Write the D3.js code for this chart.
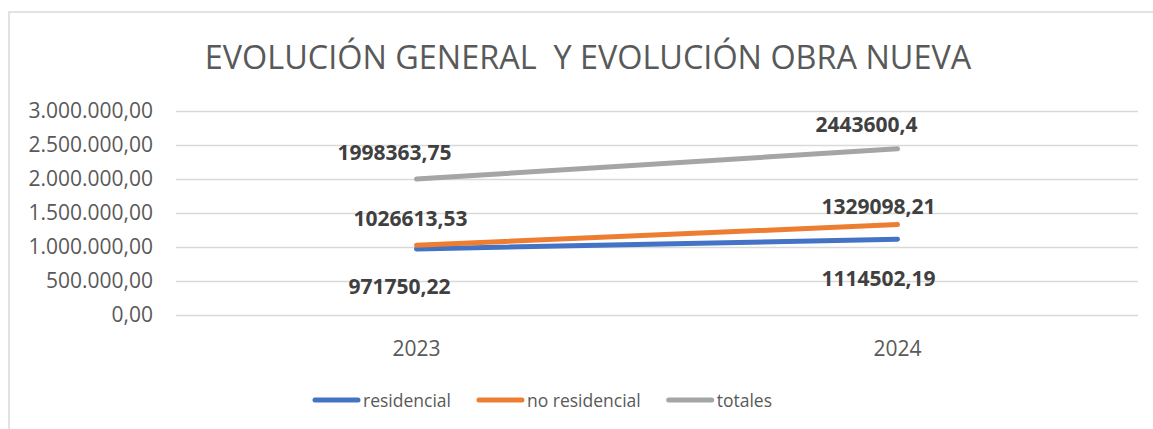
<!DOCTYPE html>
<html>
<head>
<meta charset="utf-8">
<script src="https://cdn.jsdelivr.net/npm/d3@7"></script>
<style>
  body { margin: 0; background: #fff; }
  svg { display: block; font-family: "Open Sans", "Noto Sans", sans-serif; }
</style>
</head>
<body>
<svg id="chart" width="1153" height="429"></svg>
<script>
// data
const categories = ["2023", "2024"];
const residencial = [971750.22, 1114502.19];
const noResidencial = [1026613.53, 1329098.21];
const totales = [1998363.75, 2443600.4];
const seriesNames = ["residencial", "no residencial", "totales"];
const yTicks = [0, 500000, 1000000, 1500000, 2000000, 2500000, 3000000];
const chartTitle = "EVOLUCIÓN GENERAL\u00A0 Y EVOLUCIÓN OBRA NUEVA";

const colors = ["#4472C4", "#ED7D31", "#A5A5A5"];
// label offsets from the point (the labels were nudged by hand in the original)
const labelOffsets = [
  [[-17, 38], [-19, 39]],
  [[-6, -27], [-19, -18]],
  [[-22, -27], [-31, -24]]
];

const svg = d3.select("#chart");
const width = +svg.attr("width");
const height = +svg.attr("height");

const esLocale = d3.formatLocale({ decimal: ",", thousands: ".", grouping: [3], currency: ["", " €"] });
const fmtAxis = esLocale.format(",.2f");
const fmtLabel = v => String(v).replace(".", ",");

svg.append("rect").attr("width", width).attr("height", height).attr("fill", "#fff");

// chart frame (right and bottom edges fall outside the picture)
svg.append("rect")
  .attr("x", 9).attr("y", 12)
  .attr("width", width + 20).attr("height", height + 20)
  .attr("fill", "none")
  .attr("stroke", "#d9d9d9")
  .attr("stroke-width", 1.5);

const plot = { left: 176, right: 1138, top: 111, bottom: 315 };

const x = d3.scaleBand().domain(categories).range([plot.left, plot.right]);
const y = d3.scaleLinear().domain([0, 3000000]).range([plot.bottom, plot.top]);
const px = c => x(c) + x.bandwidth() / 2;

// title
svg.append("text")
  .attr("x", 588).attr("y", 69)
  .attr("text-anchor", "middle")
  .attr("fill", "#595959")
  .attr("font-size", 32.4)
  .text(chartTitle);

// y axis with gridlines
const yAxis = svg.append("g")
  .attr("transform", `translate(${plot.left},0)`)
  .call(d3.axisLeft(y).tickValues(yTicks).tickFormat(fmtAxis)
    .tickSize(-(plot.right - plot.left)).tickPadding(23));
yAxis.select(".domain").remove();
yAxis.selectAll(".tick line").attr("stroke", "#d9d9d9").attr("stroke-width", 1.3);
yAxis.selectAll(".tick text")
  .attr("fill", "#595959")
  .attr("font-size", 21)
  .attr("font-family", "'Open Sans', sans-serif");

// category labels
svg.append("g").selectAll("text")
  .data(categories)
  .join("text")
  .attr("x", d => px(d))
  .attr("y", 356)
  .attr("text-anchor", "middle")
  .attr("fill", "#595959")
  .attr("font-size", 21)
  .text(d => d);

// lines
const series = [residencial, noResidencial, totales].map((vals, i) => ({
  name: seriesNames[i],
  color: colors[i],
  values: vals.map((v, j) => ({ cat: categories[j], v }))
}));

const line = d3.line().x(d => px(d.cat)).y(d => y(d.v));

svg.append("g").selectAll("path")
  .data(series)
  .join("path")
  .attr("d", d => line(d.values))
  .attr("fill", "none")
  .attr("stroke", d => d.color)
  .attr("stroke-width", 5)
  .attr("stroke-linecap", "round");

// data labels
series.forEach((s, i) => {
  svg.append("g").selectAll("text")
    .data(s.values)
    .join("text")
    .attr("x", (d, j) => px(d.cat) + labelOffsets[i][j][0])
    .attr("y", (d, j) => y(d.v) + labelOffsets[i][j][1])
    .attr("dy", "0.36em")
    .attr("text-anchor", "middle")
    .attr("font-weight", 700)
    .attr("font-size", 21)
    .attr("fill", "#404040")
    .text(d => fmtLabel(d.v));
});

// legend
const legend = svg.append("g").attr("transform", "translate(313,400)");
let lx = 0;
series.forEach(s => {
  const g = legend.append("g").attr("transform", `translate(${lx},0)`);
  g.append("line")
    .attr("x1", 2).attr("x2", 45)
    .attr("stroke", s.color).attr("stroke-width", 5).attr("stroke-linecap", "round");
  const t = g.append("text")
    .attr("x", 50).attr("y", 7)
    .attr("fill", "#595959")
    .attr("font-size", 17.5)
    .text(s.name);
  lx += 50 + t.node().getComputedTextLength() + 26;
});
</script>
</body>
</html>
